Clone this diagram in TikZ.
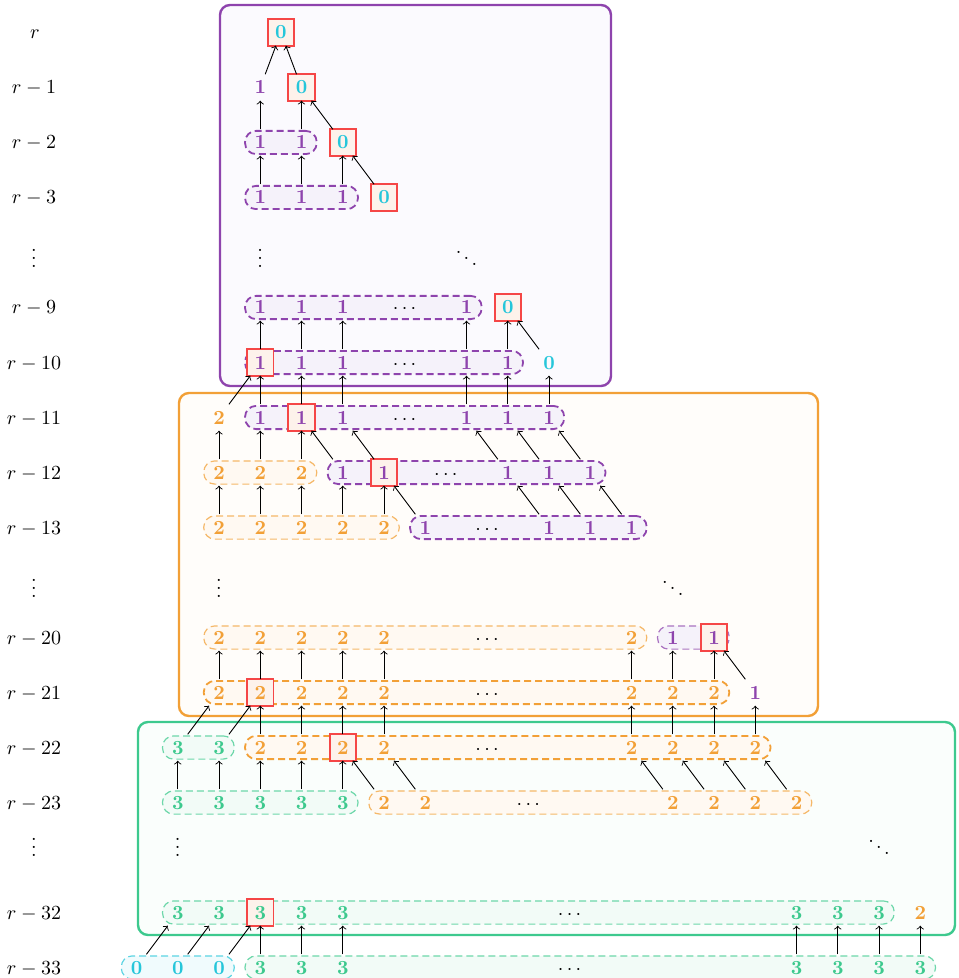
\documentclass[tikz,border=0pt]{standalone}
\usetikzlibrary{fit,backgrounds}
\definecolor{cP}{RGB}{142,68,173}
\definecolor{cO}{RGB}{242,160,55}
\definecolor{cG}{RGB}{61,201,142}
\definecolor{cC}{RGB}{38,198,218}
\definecolor{hlred}{RGB}{245,70,70}
\definecolor{hlfill}{RGB}{253,242,235}
\definecolor{bfP}{RGB}{251,250,254}
\definecolor{bfO}{RGB}{255,253,250}
\definecolor{bfG}{RGB}{250,254,252}
\definecolor{gfP}{RGB}{245,242,250}
\definecolor{gfO}{RGB}{255,249,242}
\definecolor{gfG}{RGB}{242,251,247}
\definecolor{gfC}{RGB}{240,251,253}
\begin{document}
\begin{tikzpicture}[x=0.5pt,y=-0.5pt,
  d/.style={inner sep=0pt, minimum width=12.8pt, minimum height=12.8pt, text height=6.5pt, text depth=0pt, font=\bfseries},
  dP/.style={d, text=cP}, dO/.style={d, text=cO}, dG/.style={d, text=cG}, dC/.style={d, text=cC},
  hlbox/.style={rectangle, inner sep=0pt, draw=hlred, fill=hlfill, line width=0.95pt},
  dd/.style={inner sep=0pt, text height=6.5pt, text depth=0pt},
  dts/.style={inner sep=0pt},
  lab/.style={inner sep=1pt, text height=6.5pt, text depth=0pt},
  grp/.style={rectangle, rounded corners=5.5pt, inner xsep=7.6pt, inner ysep=5.8pt, dash pattern=on 3.5pt off 2pt},
  gPk/.style={grp, draw=cP, fill=gfP, line width=0.9pt},
  gPt/.style={grp, draw=cP!75, fill=gfP, line width=0.6pt},
  gOk/.style={grp, draw=cO, fill=gfO, line width=0.9pt},
  gOt/.style={grp, draw=cO!75, fill=gfO, line width=0.6pt},
  gGt/.style={grp, draw=cG!75, fill=gfG, line width=0.6pt},
  gCt/.style={grp, draw=cC!75, fill=gfC, line width=0.6pt},
  big/.style={rounded corners=5pt, line width=1.2pt},
  ar/.style={->, line width=0.45pt}]
\useasboundingbox (0,0) rectangle (958,978);
\begin{scope}[on background layer]
  \draw[big, draw=cP, fill=bfP] (220,5) rectangle (611,386);
  \draw[big, draw=cO, fill=bfO] (179,393) rectangle (818,716);
  \draw[big, draw=cG, fill=bfG] (138,722) rectangle (955,935);
\end{scope}
\begin{scope}[shift={(136.5,32.5)},x=20.625pt,y=-27.5pt]
  % row labels
  \node[lab] (L0) at (-2.46,0) {$r$};
  \node[lab] (L1) at (-2.485,1) {$r-1$};
  \node[lab] (L2) at (-2.485,2) {$r-2$};
  \node[lab] (L3) at (-2.485,3) {$r-3$};
  \node[dts] (L4) at (-2.485,4) {$\vdots$};
  \node[lab] (L5) at (-2.485,5) {$r-9$};
  \node[lab] (L6) at (-2.485,6) {$r-10$};
  \node[lab] (L7) at (-2.485,7) {$r-11$};
  \node[lab] (L8) at (-2.485,8) {$r-12$};
  \node[lab] (L9) at (-2.485,9) {$r-13$};
  \node[dts] (L10) at (-2.485,10) {$\vdots$};
  \node[lab] (L11) at (-2.485,11) {$r-20$};
  \node[lab] (L12) at (-2.485,12) {$r-21$};
  \node[lab] (L13) at (-2.485,13) {$r-22$};
  \node[lab] (L14) at (-2.485,14) {$r-23$};
  \node[dts] (L15) at (-2.485,14.7) {$\vdots$};
  \node[lab] (L16) at (-2.485,16) {$r-32$};
  \node[lab] (L17) at (-2.485,17) {$r-33$};
  % row r
  \node[dC] (r0) at (3.5,0) {0};
  % row r-1
  \node[dP] (r1c3) at (3,1) {1};
  \node[dC] (r1c4) at (4,1) {0};
  % row r-2
  \foreach \k in {3,4} \node[dP] (r2c\k) at (\k,2) {1};
  \node[dC] (r2c5) at (5,2) {0};
  % row r-3
  \foreach \k in {3,4,5} \node[dP] (r3c\k) at (\k,3) {1};
  \node[dC] (r3c6) at (6,3) {0};
  % dots
  \node[dts] (v4) at (3,4) {$\vdots$};
  \node[dts] (dg4) at (8,4) {$\ddots$};
  % row r-9
  \foreach \k in {3,4,5,8} \node[dP] (r5c\k) at (\k,5) {1};
  \node[dd] (r5d) at (6.5,5) {$\cdots$};
  \node[dC] (r5c9) at (9,5) {0};
  % row r-10
  \foreach \k in {3,4,5,8,9} \node[dP] (r6c\k) at (\k,6) {1};
  \node[dd] (r6d) at (6.5,6) {$\cdots$};
  \node[dC] (r6c10) at (10,6) {0};
  % row r-11
  \node[dO] (r7c2) at (2,7) {2};
  \foreach \k in {3,4,5,8,9,10} \node[dP] (r7c\k) at (\k,7) {1};
  \node[dd] (r7d) at (6.5,7) {$\cdots$};
  % row r-12
  \foreach \k in {2,3,4} \node[dO] (r8c\k) at (\k,8) {2};
  \foreach \k in {5,6,9,10,11} \node[dP] (r8c\k) at (\k,8) {1};
  \node[dd] (r8d) at (7.5,8) {$\cdots$};
  % row r-13
  \foreach \k in {2,...,6} \node[dO] (r9c\k) at (\k,9) {2};
  \foreach \k in {7,10,11,12} \node[dP] (r9c\k) at (\k,9) {1};
  \node[dd] (r9d) at (8.5,9) {$\cdots$};
  % dots
  \node[dts] (v10) at (2,10) {$\vdots$};
  \node[dts] (dg10) at (13,10) {$\ddots$};
  % row r-20
  \foreach \k in {2,...,6,12} \node[dO] (r11c\k) at (\k,11) {2};
  \node[dd] (r11d) at (8.5,11) {$\cdots$};
  \foreach \k in {13,14} \node[dP] (r11c\k) at (\k,11) {1};
  % row r-21
  \foreach \k in {2,...,6,12,13,14} \node[dO] (r12c\k) at (\k,12) {2};
  \node[dd] (r12d) at (8.5,12) {$\cdots$};
  \node[dP] (r12c15) at (15,12) {1};
  % row r-22
  \foreach \k in {1,2} \node[dG] (r13c\k) at (\k,13) {3};
  \foreach \k in {3,...,6,12,13,14,15} \node[dO] (r13c\k) at (\k,13) {2};
  \node[dd] (r13d) at (8.5,13) {$\cdots$};
  % row r-23
  \foreach \k in {1,...,5} \node[dG] (r14c\k) at (\k,14) {3};
  \foreach \k in {6,7,13,14,15,16} \node[dO] (r14c\k) at (\k,14) {2};
  \node[dd] (r14d) at (9.5,14) {$\cdots$};
  % dots
  \node[dts] (v15) at (1,14.7) {$\vdots$};
  \node[dts] (dg15) at (18,14.7) {$\ddots$};
  % row r-32
  \foreach \k in {1,...,5,16,17,18} \node[dG] (r16c\k) at (\k,16) {3};
  \node[dd] (r16d) at (10.5,16) {$\cdots$};
  \node[dO] (r16c19) at (19,16) {2};
  % row r-33
  \foreach \k in {0,1,2} \node[dC] (r17c\k) at (\k,17) {0};
  \foreach \k in {3,4,5,16,17,18,19} \node[dG] (r17c\k) at (\k,17) {3};
  \node[dd] (r17d) at (10.5,17) {$\cdots$};
  % groups and highlight boxes
  \begin{scope}[on background layer]
    \node[gPk, fit=(r2c3.center)(r2c4.center)] (g2) {};
    \node[gPk, fit=(r3c3.center)(r3c5.center)] (g3) {};
    \node[gPk, fit=(r5c3.center)(r5c8.center)] (g5) {};
    \node[gPk, fit=(r6c3.center)(r6c9.center)] (g6) {};
    \node[gPk, fit=(r7c3.center)(r7c10.center)] (g7) {};
    \node[gOt, fit=(r8c2.center)(r8c4.center)] (g8a) {};
    \node[gPk, fit=(r8c5.center)(r8c11.center)] (g8b) {};
    \node[gOt, fit=(r9c2.center)(r9c6.center)] (g9a) {};
    \node[gPk, fit=(r9c7.center)(r9c12.center)] (g9b) {};
    \node[gOt, fit=(r11c2.center)(r11c12.center)] (g11a) {};
    \node[gPt, fit=(r11c13.center)(r11c14.center)] (g11b) {};
    \node[gOk, fit=(r12c2.center)(r12c14.center)] (g12) {};
    \node[gGt, fit=(r13c1.center)(r13c2.center)] (g13a) {};
    \node[gOk, fit=(r13c3.center)(r13c15.center)] (g13b) {};
    \node[gGt, fit=(r14c1.center)(r14c5.center)] (g14a) {};
    \node[gOt, fit=(r14c6.center)(r14c16.center)] (g14b) {};
    \node[gGt, fit=(r16c1.center)(r16c18.center)] (g16) {};
    \node[gCt, fit=(r17c0.center)(r17c2.center)] (g17a) {};
    \node[gGt, fit=(r17c3.center)(r17c19.center)] (g17b) {};
    \foreach \n in {r0,r1c4,r2c5,r3c6,r5c9,r6c3,r7c4,r8c6,r11c14,r12c3,r13c5,r16c3}
      \node[hlbox, fit=(\n)] (hb-\n) {};
  \end{scope}
  % arrows
  \draw[ar] (r1c3) -- (r0);
  \draw[ar] (r1c4) -- (r0);
  \draw[ar] (r2c3) -- (r1c3);
  \draw[ar] (r2c4) -- (r1c4);
  \draw[ar] (r2c5) -- (r1c4);
  \foreach \k in {3,4,5} \draw[ar] (r3c\k) -- (r2c\k);
  \draw[ar] (r3c6) -- (r2c5);
  \foreach \k in {3,4,5,8,9} \draw[ar] (r6c\k) -- (r5c\k);
  \draw[ar] (r6c10) -- (r5c9);
  \draw[ar] (r7c2) -- (r6c3);
  \foreach \k in {3,4,5,8,9,10} \draw[ar] (r7c\k) -- (r6c\k);
  \foreach \k in {2,3,4} \draw[ar] (r8c\k) -- (r7c\k);
  \draw[ar] (r8c5) -- (r7c4);
  \draw[ar] (r8c6) -- (r7c5);
  \draw[ar] (r8c9) -- (r7c8);
  \draw[ar] (r8c10) -- (r7c9);
  \draw[ar] (r8c11) -- (r7c10);
  \foreach \k in {2,...,6} \draw[ar] (r9c\k) -- (r8c\k);
  \draw[ar] (r9c7) -- (r8c6);
  \draw[ar] (r9c10) -- (r8c9);
  \draw[ar] (r9c11) -- (r8c10);
  \draw[ar] (r9c12) -- (r8c11);
  \foreach \k in {2,...,6,12,13,14} \draw[ar] (r12c\k) -- (r11c\k);
  \draw[ar] (r12c15) -- (r11c14);
  \draw[ar] (r13c1) -- (r12c2);
  \draw[ar] (r13c2) -- (r12c3);
  \foreach \k in {3,...,6,12,13,14,15} \draw[ar] (r13c\k) -- (r12c\k);
  \foreach \k in {1,...,5} \draw[ar] (r14c\k) -- (r13c\k);
  \draw[ar] (r14c6) -- (r13c5);
  \draw[ar] (r14c7) -- (r13c6);
  \draw[ar] (r14c13) -- (r13c12);
  \draw[ar] (r14c14) -- (r13c13);
  \draw[ar] (r14c15) -- (r13c14);
  \draw[ar] (r14c16) -- (r13c15);
  \draw[ar] (r17c0) -- (r16c1);
  \draw[ar] (r17c1) -- (r16c2);
  \draw[ar] (r17c2) -- (r16c3);
  \foreach \k in {3,4,5,16,17,18,19} \draw[ar] (r17c\k) -- (r16c\k);
\end{scope}
\end{tikzpicture}
\end{document}
